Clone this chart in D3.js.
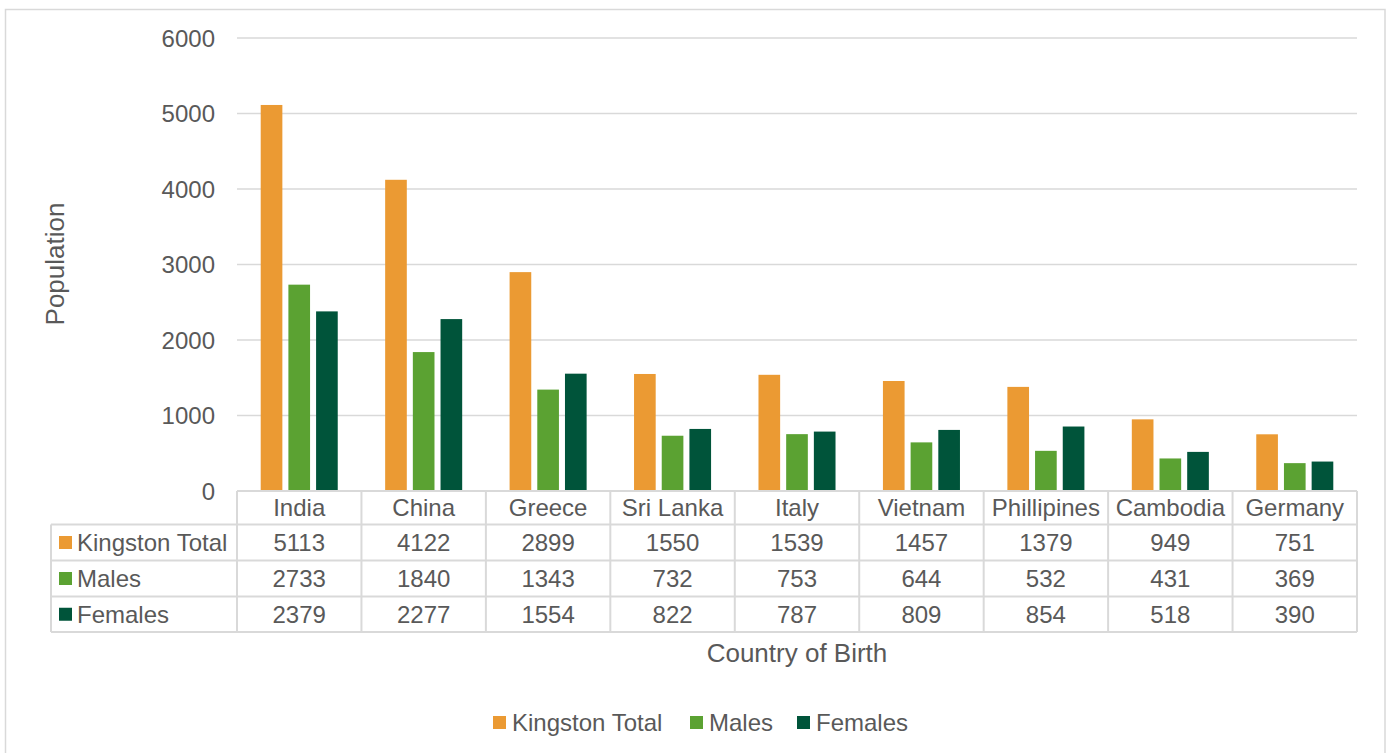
<!DOCTYPE html>
<html><head><meta charset="utf-8">
<script src="https://cdn.jsdelivr.net/npm/d3@7"></script>
<style>body{margin:0;background:#fff}svg{display:block}text{font-family:"Liberation Sans",Arial,sans-serif;fill:#595959}</style>
</head><body><svg id="c" width="1386" height="753"></svg>
<script>
const categories = ["India","China","Greece","Sri Lanka","Italy","Vietnam","Phillipines","Cambodia","Germany"];
const seriesNames = ["Kingston Total","Males","Females"];
const kingstonTotal = [5113,4122,2899,1550,1539,1457,1379,949,751];
const males = [2733,1840,1343,732,753,644,532,431,369];
const females = [2379,2277,1554,822,787,809,854,518,390];
const yTicks = [0,1000,2000,3000,4000,5000,6000];
const colors = ["#EB9A33","#5BA232","#00543A"];
const seriesValues = [kingstonTotal, males, females];

const FS = 24, TFS = 26;
const svg = d3.select("#c");
const grid = "#d9d9d9";
svg.append("rect").attr("x",5.5).attr("y",9.5).attr("width",1379.5).attr("height",750)
  .attr("fill","#fff").attr("stroke",grid).attr("stroke-width",1.5);

const L=237, R=1357, T=38, B=491;
const x = d3.scaleBand().domain(categories).range([L,R]);
const y = d3.scaleLinear().domain([0,6000]).range([B,T]);
const cw = x.bandwidth();
const bw = cw*0.174, step = cw*0.2225;

// gridlines
svg.append("g").selectAll("line").data(yTicks.filter(d=>d>0)).join("line")
  .attr("x1",L).attr("x2",R).attr("y1",d=>y(d)).attr("y2",d=>y(d))
  .attr("stroke",grid).attr("stroke-width",1.5);

// y axis labels
const yAxis = d3.axisLeft(y).tickValues(yTicks).tickSize(0).tickPadding(22).tickFormat(d3.format("d"));
const yg = svg.append("g").attr("transform",`translate(${L},0)`).call(yAxis);
yg.attr("font-size",FS).attr("font-family",null);
yg.select(".domain").remove();
yg.selectAll("text").attr("font-size",FS).style("fill","#595959").style("font-family","Liberation Sans, Arial, sans-serif").attr("dy","0.35em");

// bars
seriesValues.forEach((vals,si)=>{
  svg.append("g").selectAll("rect").data(vals).join("rect")
    .attr("x",(d,i)=>x(categories[i])+cw/2-step-bw/2+si*step)
    .attr("width",bw)
    .attr("y",d=>y(d)).attr("height",d=>B-y(d))
    .attr("fill",colors[si]);
});

// data table
const rowY = [491,524.5,560.5,596.5,632];
const TL = 51;
const tg = svg.append("g");
function line(x1,y1,x2,y2){tg.append("line").attr("x1",x1).attr("y1",y1).attr("x2",x2).attr("y2",y2).attr("stroke",grid).attr("stroke-width",2);}
line(L,rowY[0],R,rowY[0]);
for(let r=1;r<rowY.length;r++) line(TL,rowY[r],R,rowY[r]);
line(TL,rowY[1],TL,rowY[4]);
categories.forEach(c=>line(x(c),rowY[0],x(c),rowY[4]));
line(R,rowY[0],R,rowY[4]);

tg.selectAll("text.h").data(categories).join("text").attr("class","h")
  .attr("x",c=>x(c)+cw/2).attr("y",(rowY[0]+rowY[1])/2).attr("dy","0.36em")
  .attr("text-anchor","middle").attr("font-size",FS).text(c=>c);
seriesValues.forEach((vals,si)=>{
  const cy=(rowY[si+1]+rowY[si+2])/2;
  tg.append("rect").attr("x",59).attr("y",cy-6.5).attr("width",13).attr("height",13).attr("fill",colors[si]);
  tg.append("text").attr("x",77).attr("y",cy).attr("dy","0.36em").attr("font-size",FS).text(seriesNames[si]);
  tg.selectAll(null).data(vals).join("text")
    .attr("x",(d,i)=>x(categories[i])+cw/2).attr("y",cy).attr("dy","0.36em")
    .attr("text-anchor","middle").attr("font-size",FS).text(d=>d);
});

// axis titles
svg.append("text").attr("transform","translate(55,264) rotate(-90)").attr("text-anchor","middle")
  .attr("dy","0.36em").attr("font-size",TFS).text("Population");
svg.append("text").attr("x",797).attr("y",653).attr("dy","0.36em").attr("text-anchor","middle")
  .attr("font-size",TFS).text("Country of Birth");

// legend
const legX=[493,690,797];
seriesNames.forEach((n,i)=>{
  svg.append("rect").attr("x",legX[i]).attr("y",716).attr("width",13).attr("height",13).attr("fill",colors[i]);
  svg.append("text").attr("x",legX[i]+19).attr("y",722.5).attr("dy","0.36em").attr("font-size",FS).text(n);
});
</script></body></html>
